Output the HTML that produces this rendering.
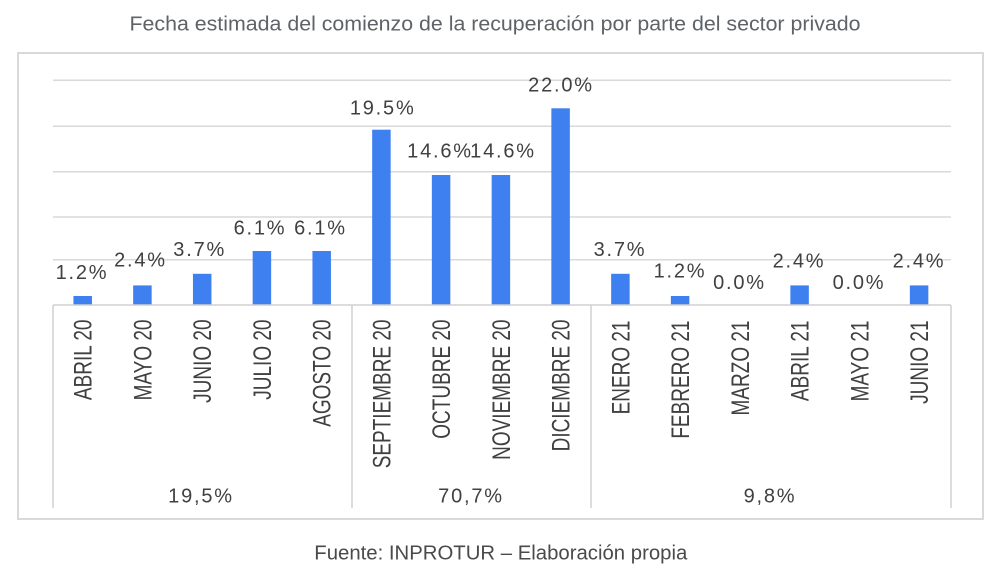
<!DOCTYPE html>
<html>
<head>
<meta charset="utf-8">
<style>
  html, body { margin: 0; padding: 0; background: #ffffff; }
  svg { display: block; }
  text { font-family: "Liberation Sans", Arial, sans-serif; }
</style>
</head>
<body>
<svg width="1000" height="577" viewBox="0 0 1000 577" xmlns="http://www.w3.org/2000/svg">
  <rect x="0" y="0" width="1000" height="577" fill="#ffffff"/>

  <!-- Title -->
  <text x="129.5" y="30.7" font-size="20" fill="#5f6368" textLength="731" lengthAdjust="spacingAndGlyphs">Fecha estimada del comienzo de la recuperación por parte del sector privado</text>

  <!-- Outer box -->
  <rect x="18" y="53" width="965" height="466" fill="#ffffff" stroke="#d9d9d9" stroke-width="2"/>

  <!-- Gridlines -->
  <g stroke="#d9d9d9" stroke-width="1.5">
    <line x1="53" y1="80.3" x2="951" y2="80.3"/>
    <line x1="53" y1="126.3" x2="951" y2="126.3"/>
    <line x1="53" y1="171.7" x2="951" y2="171.7"/>
    <line x1="53" y1="217" x2="951" y2="217"/>
    <line x1="53" y1="259.7" x2="951" y2="259.7"/>
  </g>

  <!-- Bars -->
  <g fill="#3f80f0">
    <rect x="73.45" y="296" width="18.5" height="9"/>
    <rect x="133.15" y="285.4" width="18.5" height="19.6"/>
    <rect x="192.95" y="273.8" width="18.5" height="31.2"/>
    <rect x="252.65" y="251" width="18.5" height="54"/>
    <rect x="312.45" y="251" width="18.5" height="54"/>
    <rect x="372.15" y="129.7" width="18.5" height="175.3"/>
    <rect x="431.85" y="175" width="18.5" height="130"/>
    <rect x="491.65" y="175" width="18.5" height="130"/>
    <rect x="551.35" y="108.3" width="18.5" height="196.7"/>
    <rect x="611.15" y="273.8" width="18.5" height="31.2"/>
    <rect x="670.85" y="296" width="18.5" height="9"/>
    <rect x="790.35" y="285.4" width="18.5" height="19.6"/>
    <rect x="909.85" y="285.4" width="18.5" height="19.6"/>
  </g>

  <!-- Axis and group dividers -->
  <g stroke="#d0d0d0" stroke-width="1.5">
    <line x1="53" y1="305" x2="951" y2="305"/>
    <line x1="53" y1="305" x2="53" y2="508"/>
    <line x1="352" y1="305" x2="352" y2="508"/>
    <line x1="591" y1="305" x2="591" y2="508"/>
    <line x1="951" y1="305" x2="951" y2="508"/>
  </g>

  <!-- Data labels -->
  <g font-size="20" fill="#404040" text-anchor="middle" letter-spacing="1.8">
    <text x="82" y="279">1.2%</text>
    <text x="140.5" y="266.7">2.4%</text>
    <text x="199.7" y="256">3.7%</text>
    <text x="260" y="234.3">6.1%</text>
    <text x="320.5" y="234.3">6.1%</text>
    <text x="382.7" y="114.3">19.5%</text>
    <text x="440" y="157.3">14.6%</text>
    <text x="503" y="157.3">14.6%</text>
    <text x="561" y="91.7">22.0%</text>
    <text x="620" y="256">3.7%</text>
    <text x="680" y="277.7">1.2%</text>
    <text x="739.5" y="289">0.0%</text>
    <text x="799" y="267.3">2.4%</text>
    <text x="859" y="289">0.0%</text>
    <text x="919" y="267.3">2.4%</text>
  </g>

  <!-- Category labels (rotated) -->
  <g font-size="25" fill="#404040" text-anchor="end">
    <text transform="translate(91.7,319.5) rotate(-90) scale(0.76,1)">ABRIL 20</text>
    <text transform="translate(151.4,319.5) rotate(-90) scale(0.76,1)">MAYO 20</text>
    <text transform="translate(211.2,319.5) rotate(-90) scale(0.76,1)">JUNIO 20</text>
    <text transform="translate(270.9,319.5) rotate(-90) scale(0.76,1)">JULIO 20</text>
    <text transform="translate(330.7,319.5) rotate(-90) scale(0.76,1)">AGOSTO 20</text>
    <text transform="translate(390.4,319.5) rotate(-90) scale(0.76,1)">SEPTIEMBRE 20</text>
    <text transform="translate(450.1,319.5) rotate(-90) scale(0.76,1)">OCTUBRE 20</text>
    <text transform="translate(509.9,319.5) rotate(-90) scale(0.76,1)">NOVIEMBRE 20</text>
    <text transform="translate(569.6,319.5) rotate(-90) scale(0.76,1)">DICIEMBRE 20</text>
    <text transform="translate(629.4,320.5) rotate(-90) scale(0.76,1)">ENERO 21</text>
    <text transform="translate(689.1,320.5) rotate(-90) scale(0.76,1)">FEBRERO 21</text>
    <text transform="translate(748.8,320.5) rotate(-90) scale(0.76,1)">MARZO 21</text>
    <text transform="translate(808.6,320.5) rotate(-90) scale(0.76,1)">ABRIL 21</text>
    <text transform="translate(868.3,320.5) rotate(-90) scale(0.76,1)">MAYO 21</text>
    <text transform="translate(928.1,320.5) rotate(-90) scale(0.76,1)">JUNIO 21</text>
  </g>

  <!-- Group labels -->
  <g font-size="20" fill="#404040" text-anchor="middle" letter-spacing="1.8">
    <text x="201" y="502.3">19,5%</text>
    <text x="471" y="502.3">70,7%</text>
    <text x="770" y="502.3">9,8%</text>
  </g>

  <!-- Footer -->
  <text x="314.3" y="559.3" font-size="20" fill="#4a4a4a" textLength="373" lengthAdjust="spacingAndGlyphs">Fuente: INPROTUR – Elaboración propia</text>
</svg>
</body>
</html>
